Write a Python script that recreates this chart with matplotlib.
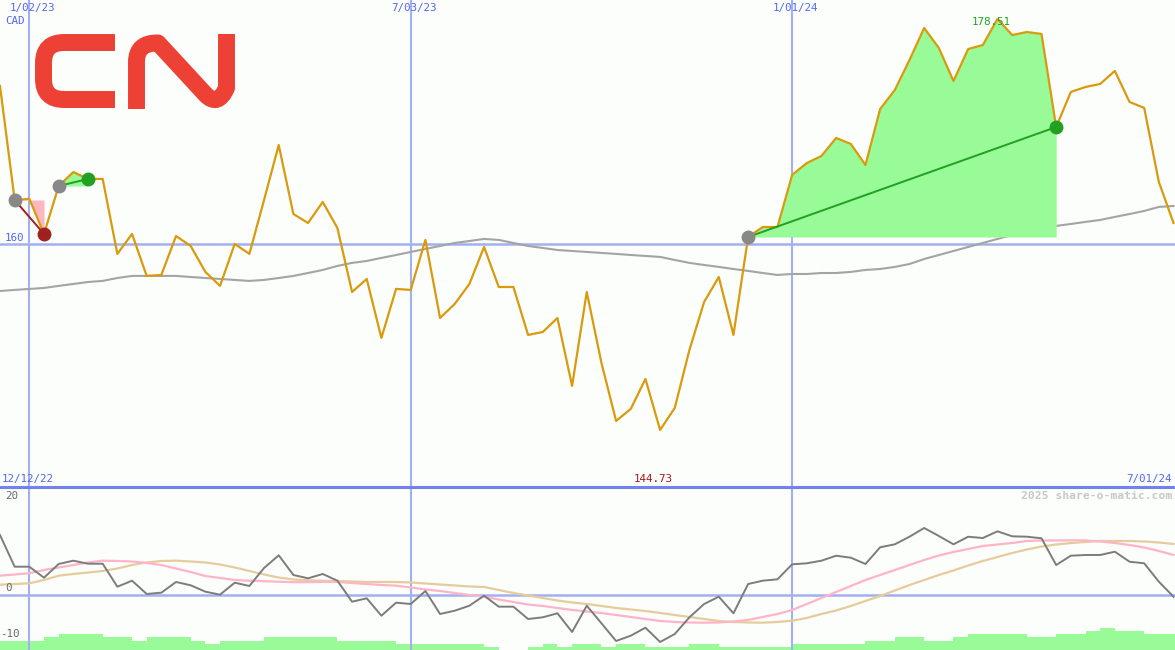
import numpy as np
import pandas as pd
import matplotlib
matplotlib.use('Agg')
import matplotlib.pyplot as plt
import matplotlib.dates as mdates
from matplotlib.path import Path
from matplotlib.patches import PathPatch

# weekly closes, CAD
weeks = pd.date_range('2022-12-19', periods=81, freq='7D')
price = [173.00, 163.63, 163.72, 160.84, 164.78, 165.93, 165.36, 165.36, 159.20, 160.84,
         157.39, 157.47, 160.67, 159.85, 157.72, 156.57, 160.02, 159.20, 163.63, 168.15,
         162.48, 161.74, 163.47, 161.33, 156.07, 157.14, 152.29, 156.32, 156.24, 160.35,
         153.93, 155.09, 156.73, 159.77, 156.48, 156.48, 152.54, 152.78, 153.93, 148.35,
         156.07, 150.24, 145.47, 146.46, 148.92, 144.73, 146.54, 151.31, 155.25, 157.30,
         152.54, 160.59, 161.41, 161.41, 165.69, 166.67, 167.25, 168.73, 168.24, 166.51,
         171.11, 172.67, 175.14, 177.77, 176.13, 173.41, 176.04, 176.37, 178.51, 177.19,
         177.44, 177.28, 169.63, 172.51, 172.92, 173.17, 174.24, 171.69, 171.20, 165.11,
         161.74]
ma40 = [156.15, 156.24, 156.32, 156.40, 156.57, 156.73, 156.89, 156.98, 157.22, 157.39,
        157.39, 157.39, 157.39, 157.30, 157.22, 157.14, 157.06, 156.98, 157.06, 157.22,
        157.39, 157.63, 157.88, 158.21, 158.46, 158.62, 158.87, 159.11, 159.36, 159.61,
        159.85, 160.10, 160.26, 160.43, 160.35, 160.10, 159.85, 159.69, 159.52, 159.44,
        159.36, 159.28, 159.20, 159.11, 159.03, 158.95, 158.70, 158.46, 158.29, 158.13,
        157.96, 157.80, 157.63, 157.47, 157.55, 157.55, 157.63, 157.63, 157.72, 157.88,
        157.96, 158.13, 158.37, 158.78, 159.11, 159.44, 159.77, 160.10, 160.43, 160.76,
        161.09, 161.33, 161.50, 161.66, 161.83, 161.99, 162.24, 162.48, 162.73, 163.06,
        163.14]

# lower panel
momentum = [13.04, 6.15, 6.15, 3.76, 6.74, 7.46, 6.80, 6.80, 1.80, 3.11,
            0.22, 0.50, 2.83, 2.11, 0.72, 0.07, 2.67, 1.96, 5.87, 8.63,
            4.35, 3.63, 4.57, 3.11, -1.46, -0.72, -4.50, -1.67, -1.96, 0.87,
            -4.13, -3.41, -2.33, -0.15, -2.54, -2.54, -5.22, -4.85, -3.98, -8.04,
            -2.33, -6.15, -10.00, -8.85, -7.11, -10.22, -8.48, -4.85, -1.96, -0.37,
            -3.98, 2.39, 3.11, 3.41, 6.67, 6.89, 7.46, 8.54, 8.11, 6.74,
            10.37, 11.02, 12.67, 14.57, 12.83, 11.02, 12.67, 12.39, 13.85, 12.76,
            12.67, 12.33, 6.52, 8.54, 8.70, 8.70, 9.41, 7.24, 6.89, 2.89,
            -0.37]
avg_fast = [4.20, 4.46, 4.72, 5.43, 5.98, 6.52, 7.07, 7.46, 7.39, 7.28,
            6.96, 6.52, 5.76, 5.00, 4.13, 3.70, 3.26, 3.11, 3.00, 2.89,
            2.78, 2.78, 2.83, 2.83, 2.61, 2.39, 2.17, 2.02, 1.63, 1.20,
            0.87, 0.43, 0.00, -0.37, -0.98, -1.52, -2.07, -2.39, -2.83, -3.26,
            -3.59, -3.91, -4.35, -4.78, -5.22, -5.65, -5.87, -5.98, -6.02, -5.98,
            -5.76, -5.43, -4.78, -4.13, -3.26, -1.96, -0.65, 0.65, 1.96, 3.26,
            4.35, 5.43, 6.52, 7.61, 8.59, 9.35, 10.00, 10.65, 10.98, 11.30,
            11.74, 11.85, 11.85, 11.89, 11.85, 11.63, 11.30, 10.87, 10.33, 9.57,
            8.70]
avg_slow = [2.24, 2.39, 2.54, 3.26, 4.20, 4.57, 4.89, 5.22, 5.76, 6.52,
            7.07, 7.39, 7.46, 7.28, 7.07, 6.63, 5.98, 5.22, 4.46, 3.80,
            3.37, 3.20, 3.09, 3.04, 2.93, 2.83, 2.83, 2.83, 2.72, 2.50,
            2.28, 2.07, 1.85, 1.74, 1.09, 0.43, -0.11, -0.65, -1.20, -1.63,
            -1.96, -2.39, -2.83, -3.15, -3.48, -3.91, -4.35, -4.78, -5.22, -5.65,
            -5.87, -5.98, -6.02, -5.87, -5.59, -5.00, -4.13, -3.37, -2.39, -1.30,
            -0.22, 0.98, 2.17, 3.26, 4.35, 5.33, 6.41, 7.39, 8.26, 9.13,
            9.89, 10.54, 10.98, 11.30, 11.52, 11.74, 11.74, 11.74, 11.63, 11.41,
            11.09]
volume = [3, 3, 3, 4, 5, 5, 5, 4, 4, 3,
          4, 4, 4, 3, 2, 3, 3, 3, 4, 4,
          4, 4, 4, 3, 3, 3, 3, 2, 2, 2,
          2, 2, 2, 1, 0, 0, 1, 2, 1, 2,
          2, 1, 2, 2, 1, 1, 1, 2, 2, 1,
          1, 1, 1, 1, 2, 2, 2, 2, 2, 3,
          3, 4, 4, 3, 3, 4, 5, 5, 5, 5,
          4, 4, 5, 5, 6, 7, 6, 6, 5, 5,
          5]

# (entry, exit) week indices
trades = [(1, 3), (4, 6), (51, 72)]
grid_dates = pd.to_datetime(['2023-01-02', '2023-07-03', '2024-01-01'])
grid_labels = ['1/02/23', '7/03/23', '1/01/24']

bg = '#fbfefb'
blue_txt = '#5566ee'
grid_c = '#a3b0f0'
mono = 'DejaVu Sans Mono'

W, H = 1175, 650
fig = plt.figure(figsize=(W / 100, H / 100), dpi=100, facecolor=bg)

xn = mdates.date2num(weeks)
gn = mdates.date2num(grid_dates)
x0 = xn[0]
x1 = xn[0] + 7 * 80.1

# ---- top panel
ax = fig.add_axes([0, 163 / H, 1, 487 / H])
ax.set_facecolor('none')
ax.set_xlim(x0, x1)
ax.set_ylim(140.04, 180.07)
ax.axis('off')

for d in gn:
    ax.axvline(d, color=grid_c, lw=1.5, zorder=1)
ax.axhline(160, color=grid_c, lw=1.8, zorder=1)

ax.plot(xn, ma40, color='#a4a4a4', lw=1.5, zorder=2)

for a, b in trades:
    win = price[b] > price[a]
    ax.fill_between(xn[a:b + 1], price[a:b + 1], price[a],
                    color='#98fb98' if win else '#ffb6c1', lw=0, zorder=2)

ax.plot(xn, price, color='#d99a0e', lw=1.6, zorder=3)

for a, b in trades:
    win = price[b] > price[a]
    c = '#22a022' if win else '#a02020'
    ax.plot([xn[a], xn[b]], [price[a], price[b]], color=c, lw=1.4, zorder=4)
    ax.plot(xn[a], price[a], 'o', color='#888888', ms=9, zorder=5)
    ax.plot(xn[b], price[b], 'o', color=c, ms=9, zorder=5)

for d, lbl in zip(gn, grid_labels):
    ax.annotate(lbl, xy=(d, 1), xycoords=ax.get_xaxis_transform(), xytext=(3, -8),
                textcoords='offset pixels', ha='center', va='center',
                color=blue_txt, fontsize=7.8, family=mono)

ax.annotate('CAD', xy=(0, 1), xycoords='axes fraction', xytext=(5, -21),
            textcoords='offset pixels', ha='left', va='center', color=blue_txt,
            fontsize=7.8, family=mono)
ax.annotate('160', xy=(0, 160), xycoords=ax.get_yaxis_transform(), xytext=(5, 6),
            textcoords='offset pixels', ha='left', va='center', color=blue_txt,
            fontsize=7.8, family=mono)
ax.annotate('12/12/22', xy=(0, 0), xycoords='axes fraction', xytext=(2, 8),
            textcoords='offset pixels', ha='left', va='center', color=blue_txt,
            fontsize=7.8, family=mono)
ax.annotate('7/01/24', xy=(1, 0), xycoords='axes fraction', xytext=(-3, 8),
            textcoords='offset pixels', ha='right', va='center', color=blue_txt,
            fontsize=7.8, family=mono)

i_hi = int(np.argmax(price))
i_lo = int(np.argmin(price))
ax.annotate(f'{price[i_hi]:.2f}', xy=(xn[i_hi], 1), xycoords=ax.get_xaxis_transform(),
            xytext=(-6, -22), textcoords='offset pixels', ha='center', va='center',
            color='#22a022', fontsize=7.8, family=mono, zorder=6)
ax.annotate(f'{price[i_lo]:.2f}', xy=(xn[i_lo], 0), xycoords=ax.get_xaxis_transform(),
            xytext=(-7, 8), textcoords='offset pixels', ha='center', va='center',
            color='#a01818', fontsize=7.8, family=mono)

# ---- bottom panel: volume underneath
axv = fig.add_axes([0, 0, 1, 163 / H])
axv.set_facecolor('none')
axv.set_xlim(x0, x1)
axv.set_ylim(0, 163 / 3.15)
axv.axis('off')
axv.bar(xn, volume, width=7, align='edge', color='#98fb98', lw=0)

axb = fig.add_axes([0, 0, 1, 163 / H])
axb.set_facecolor('none')
axb.set_xlim(x0, x1)
axb.set_ylim(-11.96, 23.48)
axb.axis('off')

for d in gn:
    axb.axvline(d, color=grid_c, lw=1.5, zorder=1)
axb.axhline(0, color=grid_c, lw=1.8, zorder=1)

axb.plot(xn, avg_slow, color='#e6cc9c', lw=1.6, zorder=2)
axb.plot(xn, avg_fast, color='#ffb4c8', lw=1.6, zorder=3)
axb.plot(xn, momentum, color='#7c7c7c', lw=1.4, zorder=4)

for v in [20, 0, -10]:
    axb.annotate(str(v), xy=(0, v), xycoords=axb.get_yaxis_transform(),
                 xytext=(5 if v >= 0 else 0, 7), textcoords='offset pixels',
                 ha='left', va='center', color='#6a6a6a', fontsize=7.8, family=mono)

# separator between panels
fig.add_artist(plt.Line2D([0, 1], [163 / H, 163 / H], color='#7282ea', lw=2.2))

fig.text(1172 / W, 1 - 496 / H, '2025 share-o-matic.com', ha='right', va='center',
         color='#c8c8c8', fontsize=8.2, family=mono, fontweight='bold')

# ---- CN logo
logo = fig.add_axes([0, 0, 1, 1])
logo.set_facecolor('none')
logo.set_xlim(0, W)
logo.set_ylim(H, 0)
logo.axis('off')
red = '#ee4136'
c_path = Path([(115, 42.5), (64, 42.5), (43.5, 42.5), (43.5, 63), (43.5, 79),
               (43.5, 99.5), (64, 99.5), (115, 99.5)],
              [Path.MOVETO, Path.LINETO, Path.CURVE3, Path.CURVE3, Path.LINETO,
               Path.CURVE3, Path.CURVE3, Path.LINETO])
n_path = Path([(136.5, 109), (136.5, 62), (136.5, 42.5), (158, 43), (206, 95),
               (218, 107), (226.5, 88), (226.5, 34)],
              [Path.MOVETO, Path.LINETO, Path.CURVE3, Path.CURVE3, Path.LINETO,
               Path.CURVE3, Path.CURVE3, Path.LINETO])
for p in (c_path, n_path):
    logo.add_patch(PathPatch(p, fill=False, edgecolor=red, lw=12.2,
                             capstyle='butt', joinstyle='round'))

fig.savefig('out.png', dpi=100, facecolor=bg)
